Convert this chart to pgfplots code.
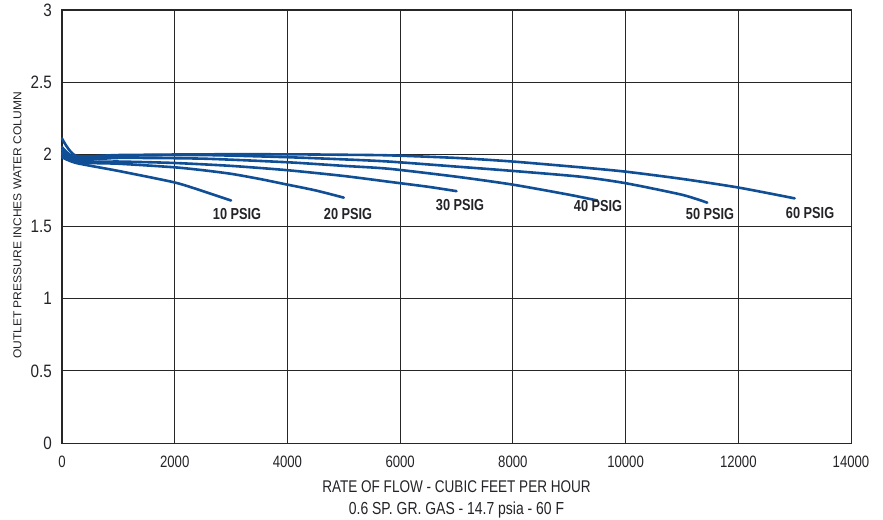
\documentclass[border=0pt]{standalone}
\usepackage{pgfplots}
\pgfplotsset{compat=1.18}
\usepackage{fontspec}
\setmainfont{Liberation Sans}[FakeStretch=0.8]
\newfontfamily\ytfont{Liberation Sans}[FakeStretch=0.85]
\newfontfamily\ylfont{Liberation Sans}[FakeStretch=1.05]
\definecolor{curvecol}{RGB}{16,78,150}
\definecolor{txt}{RGB}{35,35,40}
\tikzset{psig/.style={draw=curvecol, color=curvecol, line width=2.6bp, line join=round, line cap=round, smooth, tension=0.4}}
\begin{document}
\begin{tikzpicture}
\begin{axis}[
  scale only axis, width=789bp, height=433bp,
  xmin=0, xmax=14000, ymin=0, ymax=3,
  xtick={0,2000,...,14000}, ytick={0,0.5,...,3},
  scaled x ticks=false, scaled y ticks=false,
  grid=major, major grid style={black!85, line width=0.9bp},
  axis line style={black!85, line width=1bp},
  major tick length=0pt,
  clip=false,
  /pgf/number format/assume math mode=true,
  /pgf/number format/set thousands separator={},
  xticklabel style={font=\fontsize{16.5}{17}\selectfont, text=txt, inner sep=0pt, yshift=-13bp},
  yticklabel style={font=\ytfont\fontsize{18}{18}\selectfont, text=txt, inner sep=0pt, xshift=-10bp},
]
% 10 PSIG
\addplot[psig, no marks] coordinates {(0,1.98) (250,1.94) (1000,1.885) (2000,1.805) (2500,1.745) (3000,1.68)};
% 20 PSIG
\addplot[psig, no marks] coordinates {(0,2.00) (250,1.945) (1000,1.935) (2000,1.91) (2500,1.89) (3000,1.865) (3500,1.83) (4000,1.79) (4500,1.75) (5000,1.70)};
% 30 PSIG
\addplot[psig, no marks] coordinates {(0,2.01) (250,1.95) (1000,1.95) (2000,1.94) (3000,1.92) (4000,1.89) (5000,1.85) (5800,1.81) (6500,1.775) (7000,1.745)};
% 40 PSIG
\addplot[psig, no marks] coordinates {(0,2.03) (250,1.96) (1000,1.975) (2500,1.97) (4000,1.945) (5000,1.92) (5800,1.90) (7000,1.845) (8000,1.79) (9000,1.72) (9500,1.68)};
% 50 PSIG
\addplot[psig, no marks] coordinates {(0,2.05) (250,1.975) (1000,1.99) (2500,1.995) (4000,1.98) (5000,1.965) (5800,1.95) (7000,1.915) (8000,1.885) (9200,1.845) (10000,1.80) (11000,1.72) (11450,1.665)};
% 60 PSIG
\addplot[psig, no marks] coordinates {(0,2.11) (250,1.99) (1000,1.995) (2500,2.0) (4000,2.0) (5000,1.997) (5800,1.993) (7000,1.975) (8000,1.95) (9200,1.91) (10000,1.88) (11000,1.83) (12000,1.77) (13000,1.695)};

\begin{scope}[every node/.style={font=\bfseries\fontsize{16}{16}\selectfont, text=txt, inner sep=0pt}]
\node at (axis cs:3106,1.587) {10 PSIG};
\node at (axis cs:5075,1.587) {20 PSIG};
\node at (axis cs:7063,1.649) {30 PSIG};
\node at (axis cs:9512,1.642) {40 PSIG};
\node at (axis cs:11499,1.587) {50 PSIG};
\node at (axis cs:13274,1.594) {60 PSIG};
\end{scope}
\node[anchor=base, inner sep=0pt, text=txt, font=\fontsize{17}{17}\selectfont] at (axis cs:7000,-0.346) {RATE OF FLOW - CUBIC FEET PER HOUR};
\node[anchor=base, inner sep=0pt, text=txt, font=\fontsize{17.5}{17.5}\selectfont] at (axis cs:7000,-0.492) {0.6 SP. GR. GAS - 14.7 psia - 60 F};
\node[rotate=90, inner sep=0pt, text=txt, font=\ylfont\fontsize{11.5}{12}\selectfont] at (axis cs:-790,1.507) {OUTLET PRESSURE INCHES WATER COLUMN};
\end{axis}
\pgfresetboundingbox
\path ([shift={(-62bp,-77bp)}]current axis.south west) rectangle ([shift={(32bp,10bp)}]current axis.north east);
\end{tikzpicture}
\end{document}
